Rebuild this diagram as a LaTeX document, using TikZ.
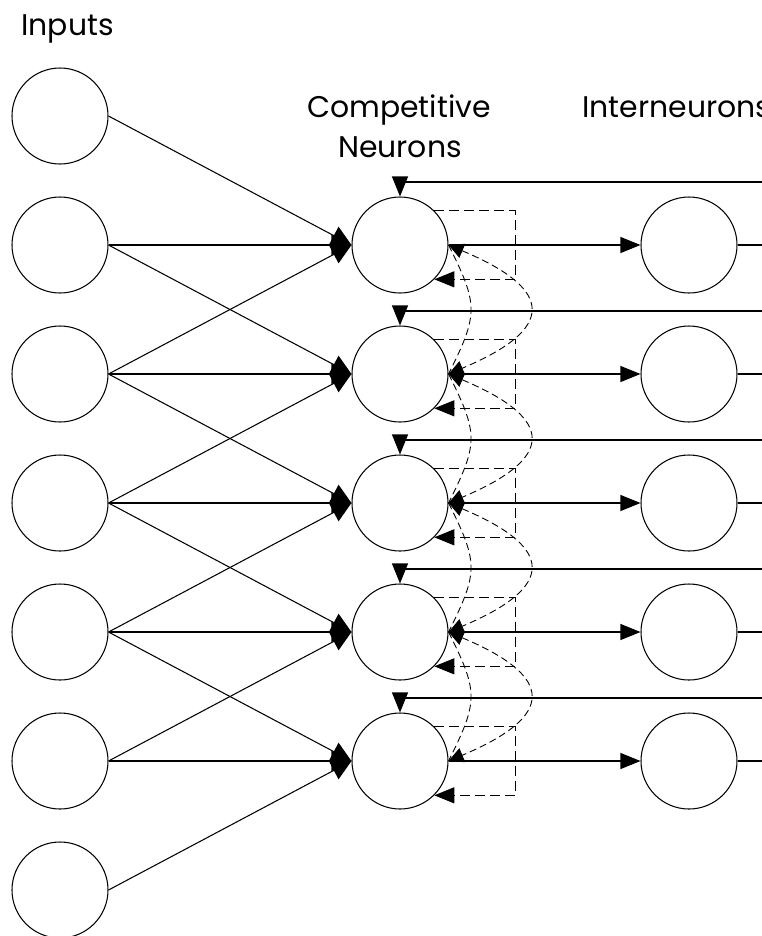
\documentclass[tikz,border=0pt]{standalone}
\usepackage{fontspec}
\setmainfont{Poppins}
\usetikzlibrary{arrows.meta,positioning}
\tikzstyle{neuron} = [circle, draw, line width=0.6pt, minimum size=19.2mm, inner sep=0pt]
\tikzstyle{link} = [line width=0.6pt]
\tikzstyle{arrow} = [line width=0.6pt, -{Triangle[length=4mm,width=3.2mm]}]
\tikzstyle{inarrow} = [line width=0.6pt, -{Triangle[length=4mm,width=4mm]}]
\tikzstyle{selfloop} = [line width=0.6pt, dash pattern=on 2mm off 1mm, -{Triangle[length=4mm,width=3.2mm]}]
\tikzstyle{lateral} = [line width=0.5pt, dash pattern=on 1.4mm off 0.8mm]
\tikzstyle{title} = [anchor=base, inner sep=0pt, font=\fontsize{17}{20}\selectfont]

\begin{document}
\begin{tikzpicture}[x=0.2mm, y=-0.2mm]
    \useasboundingbox (0,0) rectangle (762,936);
    % layers
    \foreach \i in {1,...,7} {
        \node[neuron] (in\i) at (60,{116+(\i-1)*129}) {};
    }
    \foreach \j in {1,...,5} {
        \node[neuron] (comp\j) at (400,{245+(\j-1)*129}) {};
        \node[neuron] (inter\j) at (689,{245+(\j-1)*129}) {};
        \coordinate (out\j) at (762,{245+(\j-1)*129});
        \coordinate (fb\j) at (762,{182+(\j-1)*129});
    }
    % titles
    \node[title, anchor=base west] (inputs) at (21,35) {Inputs};
    \node[title] (comptitle) at (399,117) {Competitive};
    \node[title] (neurtitle) at (400,157) {Neurons};
    \node[title, anchor=base west] (intertitle) at (582,117) {Interneurons};
    % input to competitive
    \foreach \j in {1,...,5} {
        \foreach \k in {0,1,2} {
            \pgfmathtruncatemacro{\i}{\j+\k}
            \draw[inarrow] (in\i.east) -- (comp\j.west);
        }
    }
    % competitive to interneurons and back
    \foreach \j in {1,...,5} {
        \draw[arrow] (comp\j.east) -- (inter\j.west);
        \draw[link] (inter\j.east) -- (out\j);
        \draw[arrow] (fb\j) -| (comp\j.north);
        \draw[selfloop] (comp\j.45) -- ++(81,0) |- (comp\j.-45);
    }
    % lateral connections
    \foreach \j in {1,...,4} {
        \pgfmathtruncatemacro{\n}{\j+1}
        \draw[lateral, {Triangle[length=3mm,width=3mm]}-{Triangle[length=3mm,width=3mm]}] (comp\j.east) .. controls +(107,45) and +(107,-45) .. (comp\n.east);
        \draw[lateral] (comp\j.east) .. controls +(30,60) and +(30,-60) .. (comp\n.east);
    }
\end{tikzpicture}
\end{document}
